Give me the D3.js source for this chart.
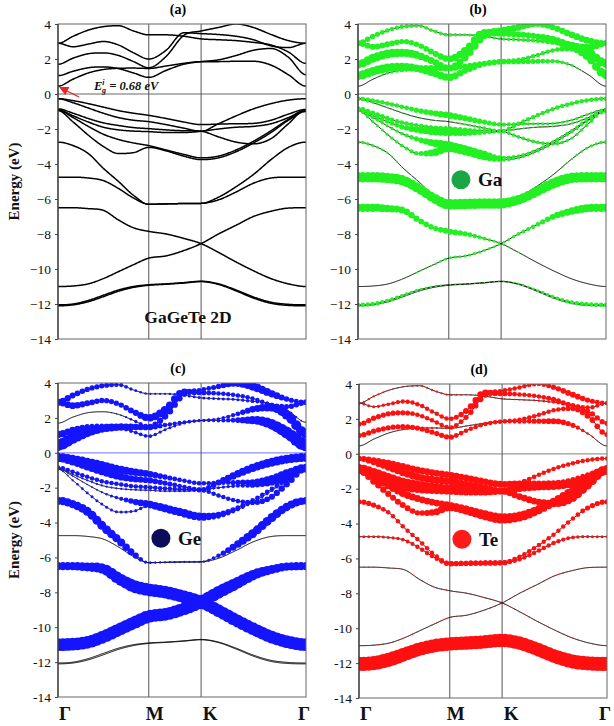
<!DOCTYPE html>
<html><head><meta charset="utf-8">
<script src="https://cdn.jsdelivr.net/npm/d3@7"></script>
<style>body{margin:0;background:#fff} svg{display:block}</style>
</head><body>
<svg id="chart" width="614" height="726"></svg>
<script>
// ---------- DATA ----------
const kLabels = ["Γ", "M", "K", "Γ"];
const kNodes = [0, 0.366, 0.577, 1];           // path position of high-symmetry points
const kGrid = [0, .061, .122, .183, .244, .305, .366, .436, .507, .577, .647, .718, .788, .859, .929, 1];
const energyTicks = [4, 2, 0, -2, -4, -6, -8, -10, -12, -14];
const elements = ["Ga", "Ge", "Te"];

// band energies (eV) at kGrid
const c1 = [0.45, 0.85, 1.2, 1.4, 1.47, 1.48, 1.46, 1.6, 1.75, 1.85, 1.85, 1.87, 1.87, 1.65, 1.1, 0.45];
const c2 = [1.05, 1.3, 1.5, 1.55, 1.45, 1.2, 0.95, 1.35, 1.7, 1.85, 1.95, 2.2, 2.5, 2.6, 2.1, 1.1];
const c3 = [1.7, 2.05, 2.3, 2.35, 2.2, 1.85, 1.5, 2.15, 3.35, 3.6, 3.8, 4.0, 3.8, 3.4, 3.05, 2.9];
const c4 = [2.9, 2.7, 2.85, 3.0, 2.8, 2.35, 2.0, 2.5, 3.5, 3.45, 3.4, 3.3, 3.1, 2.75, 2.65, 2.9];
const c5 = [2.9, 3.3, 3.65, 3.85, 3.9, 3.6, 3.38, 3.38, 3.3, 3.15, 3.1, 3.05, 2.95, 2.8, 2.4, 1.75];
const v1 = [-0.27, -0.38, -0.55, -0.75, -0.95, -1.1, -1.22, -1.4, -1.6, -1.75, -1.72, -1.7, -1.68, -1.5, -1.15, -0.88];
const v2 = [-0.27, -0.5, -0.8, -1.1, -1.35, -1.5, -1.58, -1.75, -1.95, -2.13, -1.7, -1.25, -0.85, -0.55, -0.35, -0.27];
const v3 = [-0.85, -1.1, -1.4, -1.65, -1.8, -1.92, -1.98, -2.05, -2.1, -2.13, -2.45, -2.75, -2.85, -2.55, -1.7, -0.9];
const v4 = [-0.9, -1.25, -1.6, -1.9, -2.05, -2.12, -2.15, -2.2, -2.2, -2.13, -2.0, -1.9, -1.85, -1.7, -1.35, -0.92];
const v5 = [-0.92, -1.35, -1.85, -2.3, -2.6, -2.8, -2.95, -3.2, -3.45, -3.65, -3.55, -3.2, -2.7, -2.1, -1.45, -0.95];
const v6 = [-0.95, -1.6, -2.35, -3.0, -3.4, -3.35, -3.05, -3.25, -3.55, -3.75, -3.65, -3.3, -2.8, -2.2, -1.5, -1.0];
const v7 = [-2.75, -2.95, -3.4, -4.25, -5.0, -5.8, -6.3, -6.28, -6.26, -6.25, -5.9, -5.3, -4.6, -3.75, -3.05, -2.75];
const v8 = [-4.75, -4.75, -4.8, -4.95, -5.4, -5.95, -6.3, -6.28, -6.26, -6.25, -6.05, -5.6, -5.1, -4.8, -4.75, -4.75];
const vA = [-6.5, -6.5, -6.55, -6.65, -7.2, -7.65, -7.85, -8.0, -8.25, -8.55, -9.05, -9.6, -10.1, -10.55, -10.85, -11.0];
const vB = [-11.0, -10.97, -10.85, -10.55, -10.15, -9.75, -9.38, -9.25, -8.95, -8.55, -8.0, -7.5, -7.0, -6.7, -6.52, -6.5];
const vC = [-12.05, -12.0, -11.8, -11.5, -11.2, -11.0, -10.9, -10.85, -10.78, -10.7, -10.85, -11.2, -11.6, -11.9, -12.02, -12.05];
const vD = [-12.1, -12.05, -11.87, -11.58, -11.27, -11.05, -10.93, -10.87, -10.8, -10.72, -10.88, -11.25, -11.66, -11.96, -12.08, -12.1];
const bands = [c1, c2, c3, c4, c5, v1, v2, v3, v4, v5, v6, v7, v8, vA, vB, vC, vD];

// orbital projection weights (0..1) per band, at kGrid
const z16 = [0,0,0,0,0,0,0,0,0,0,0,0,0,0,0,0];
const wGa = [
  [0, 0.05, 0.2, 0.35, 0.4, 0.4, 0.4, 0.35, 0.35, 0.35, 0.35, 0.35, 0.3, 0.2, 0.05, 0],
  [0.6, 0.6, 0.6, 0.55, 0.5, 0.5, 0.5, 0.4, 0.35, 0.35, 0.3, 0.3, 0.3, 0.4, 0.55, 0.6],
  [0.55, 0.6, 0.6, 0.55, 0.5, 0.45, 0.4, 0.5, 0.55, 0.5, 0.45, 0.4, 0.4, 0.45, 0.45, 0.4],
  [0.4, 0.4, 0.4, 0.35, 0.35, 0.4, 0.45, 0.55, 0.5, 0.4, 0.4, 0.4, 0.5, 0.55, 0.5, 0.4],
  [0.4, 0.35, 0.3, 0.3, 0.25, 0.25, 0.25, 0.2, 0.2, 0.2, 0.25, 0.3, 0.35, 0.45, 0.55, 0.6],
  [0.3, 0.3, 0.3, 0.3, 0.35, 0.4, 0.45, 0.4, 0.35, 0.3, 0.25, 0.2, 0.2, 0.2, 0.2, 0.2],
  [0.3, 0.15, 0.1, 0.1, 0.1, 0.1, 0.1, 0.15, 0.25, 0.3, 0.3, 0.3, 0.3, 0.3, 0.3, 0.3],
  [0.35, 0.35, 0.3, 0.3, 0.3, 0.3, 0.35, 0.3, 0.25, 0.25, 0.25, 0.25, 0.25, 0.2, 0.25, 0.3],
  [0.3, 0.3, 0.3, 0.35, 0.45, 0.55, 0.6, 0.45, 0.3, 0.2, 0.15, 0.1, 0.1, 0.15, 0.2, 0.3],
  [0.3, 0.25, 0.2, 0.25, 0.35, 0.5, 0.6, 0.6, 0.5, 0.3, 0.25, 0.2, 0.2, 0.2, 0.25, 0.3],
  [0.25, 0.2, 0.2, 0.25, 0.3, 0.5, 0.65, 0.65, 0.55, 0.3, 0.2, 0.2, 0.2, 0.2, 0.25, 0.25],
  [0.25, 0.2, 0.15, 0.1, 0.1, 0.1, 0.2, 0.2, 0.2, 0.2, 0.1, 0.1, 0.1, 0.15, 0.2, 0.25],
  [0.7, 0.7, 0.7, 0.7, 0.65, 0.65, 0.7, 0.7, 0.7, 0.7, 0.65, 0.65, 0.7, 0.7, 0.7, 0.7],
  [0.55, 0.55, 0.5, 0.45, 0.4, 0.35, 0.4, 0.35, 0.25, 0.15, 0.1, 0.05, 0.05, 0.05, 0.05, 0.05],
  [0.05, 0.05, 0.05, 0.1, 0.1, 0.15, 0.2, 0.2, 0.2, 0.15, 0.25, 0.3, 0.4, 0.5, 0.55, 0.55],
  [0.3, 0.3, 0.28, 0.25, 0.2, 0.15, 0.1, 0.1, 0.1, 0.1, 0.15, 0.2, 0.25, 0.28, 0.3, 0.3],
  z16
];
const wGe = [
  [0.8, 0.75, 0.65, 0.55, 0.5, 0.45, 0.4, 0.3, 0.25, 0.2, 0.25, 0.35, 0.55, 0.7, 0.8, 0.85],
  [0.5, 0.45, 0.35, 0.3, 0.25, 0.25, 0.25, 0.2, 0.2, 0.2, 0.2, 0.3, 0.45, 0.55, 0.65, 0.7],
  [0.05, 0.05, 0.05, 0.05, 0.1, 0.2, 0.35, 0.45, 0.4, 0.3, 0.35, 0.5, 0.6, 0.5, 0.35, 0.3],
  [0.45, 0.45, 0.4, 0.35, 0.35, 0.4, 0.5, 0.55, 0.45, 0.35, 0.3, 0.3, 0.3, 0.3, 0.35, 0.4],
  [0.45, 0.4, 0.35, 0.35, 0.3, 0.2, 0.15, 0.15, 0.2, 0.2, 0.2, 0.2, 0.25, 0.2, 0.15, 0.1],
  [0.6, 0.6, 0.6, 0.6, 0.55, 0.5, 0.45, 0.35, 0.3, 0.3, 0.3, 0.35, 0.4, 0.5, 0.55, 0.6],
  [0.6, 0.55, 0.55, 0.5, 0.5, 0.45, 0.4, 0.35, 0.3, 0.35, 0.4, 0.5, 0.55, 0.6, 0.6, 0.6],
  [0.3, 0.3, 0.3, 0.3, 0.3, 0.3, 0.3, 0.3, 0.3, 0.3, 0.3, 0.3, 0.35, 0.4, 0.45, 0.4],
  [0.15, 0.15, 0.15, 0.15, 0.15, 0.15, 0.15, 0.15, 0.15, 0.15, 0.2, 0.25, 0.35, 0.45, 0.5, 0.45],
  [0.1, 0.1, 0.1, 0.15, 0.25, 0.4, 0.5, 0.55, 0.55, 0.5, 0.4, 0.35, 0.3, 0.3, 0.3, 0.25],
  [0.1, 0.15, 0.2, 0.2, 0.2, 0.2, 0.25, 0.3, 0.35, 0.35, 0.3, 0.25, 0.2, 0.2, 0.2, 0.15],
  [0.55, 0.55, 0.6, 0.6, 0.55, 0.45, 0.15, 0.1, 0.1, 0.1, 0.3, 0.5, 0.6, 0.6, 0.55, 0.5],
  [0, 0, 0, 0, 0.02, 0.05, 0.15, 0.15, 0.15, 0.15, 0.05, 0, 0, 0, 0, 0],
  [0.55, 0.55, 0.6, 0.7, 0.8, 0.85, 0.85, 0.85, 0.85, 0.85, 0.85, 0.85, 0.85, 0.85, 0.85, 0.85],
  [0.85, 0.85, 0.85, 0.85, 0.85, 0.85, 0.85, 0.85, 0.85, 0.85, 0.85, 0.8, 0.7, 0.6, 0.55, 0.55],
  z16,
  z16
];
const wTe = [
  [0, 0, 0.05, 0.1, 0.15, 0.15, 0.1, 0.1, 0.15, 0.25, 0.3, 0.35, 0.4, 0.35, 0.15, 0],
  [0.35, 0.35, 0.35, 0.35, 0.35, 0.35, 0.35, 0.3, 0.3, 0.3, 0.3, 0.3, 0.3, 0.35, 0.4, 0.35],
  [0.35, 0.35, 0.35, 0.35, 0.3, 0.3, 0.3, 0.35, 0.4, 0.3, 0.3, 0.3, 0.35, 0.4, 0.35, 0.3],
  [0.2, 0.2, 0.25, 0.3, 0.3, 0.3, 0.3, 0.4, 0.45, 0.35, 0.3, 0.3, 0.35, 0.35, 0.3, 0.25],
  [0.15, 0.15, 0.1, 0.1, 0.15, 0.15, 0.15, 0.1, 0.1, 0.1, 0.1, 0.15, 0.2, 0.3, 0.35, 0.35],
  [0.35, 0.4, 0.45, 0.45, 0.45, 0.45, 0.45, 0.45, 0.45, 0.45, 0.45, 0.4, 0.4, 0.35, 0.3, 0.35],
  [0.35, 0.4, 0.45, 0.5, 0.5, 0.5, 0.5, 0.45, 0.45, 0.4, 0.35, 0.3, 0.3, 0.3, 0.3, 0.3],
  [0.6, 0.65, 0.65, 0.6, 0.6, 0.55, 0.55, 0.5, 0.45, 0.45, 0.45, 0.45, 0.5, 0.55, 0.6, 0.6],
  [0.6, 0.6, 0.6, 0.55, 0.5, 0.45, 0.45, 0.45, 0.45, 0.45, 0.45, 0.5, 0.5, 0.55, 0.6, 0.6],
  [0.5, 0.5, 0.5, 0.5, 0.45, 0.45, 0.45, 0.5, 0.5, 0.55, 0.55, 0.5, 0.5, 0.5, 0.5, 0.5],
  [0.5, 0.45, 0.4, 0.4, 0.35, 0.45, 0.55, 0.6, 0.6, 0.6, 0.55, 0.5, 0.45, 0.45, 0.5, 0.5],
  [0.35, 0.35, 0.3, 0.3, 0.3, 0.3, 0.35, 0.35, 0.35, 0.35, 0.3, 0.3, 0.3, 0.3, 0.35, 0.35],
  [0.2, 0.2, 0.2, 0.25, 0.3, 0.3, 0.35, 0.35, 0.35, 0.35, 0.3, 0.3, 0.3, 0.25, 0.2, 0.2],
  [0.08, 0.08, 0.08, 0.08, 0.08, 0.08, 0.08, 0.08, 0.08, 0.08, 0.08, 0.08, 0.08, 0.08, 0.08, 0.08],
  [0.08, 0.08, 0.08, 0.08, 0.08, 0.08, 0.08, 0.08, 0.08, 0.08, 0.08, 0.08, 0.08, 0.08, 0.08, 0.08],
  [0.95, 0.95, 0.95, 0.92, 0.9, 0.9, 0.9, 0.9, 0.9, 0.9, 0.9, 0.9, 0.92, 0.95, 0.95, 0.95],
  z16
];
const weights = {Ga: wGa, Ge: wGe, Te: wTe};
const gapLabel = "0.68 eV";

// ---------- DRAWING ----------
const svg = d3.select("#chart");
const serif = "'Liberation Serif','Times New Roman',serif";
const dotColor = {Ga: "#22f022", Ge: "#1414ff", Te: "#ff1010"};
const legendColor = {Ga: "#1aa646", Ge: "#0c0c5a", Te: "#ff1a1a"};

const panels = [
  {id: "a", x0: 58, x1: 306, y0: 24, y1: 339, elem: null, minus: "−", zero: "#9a9a9a"},
  {id: "b", x0: 358, x1: 606, y0: 24, y1: 339, elem: "Ga", minus: "−", zero: "#9a9a9a"},
  {id: "c", x0: 58, x1: 306, y0: 383, y1: 697, elem: "Ge", minus: "-", zero: "#8c8cff"},
  {id: "d", x0: 359, x1: 607, y0: 384, y1: 698, elem: "Te", minus: "-", zero: "#9a9a9a"}
];

function monotone(xs, ys) {
  const n = xs.length, d = [], m = new Array(n);
  for (let i = 0; i < n - 1; i++) d.push((ys[i + 1] - ys[i]) / (xs[i + 1] - xs[i]));
  m[0] = 0; m[n - 1] = 0;
  for (let i = 1; i < n - 1; i++) m[i] = d[i - 1] * d[i] <= 0 ? 0 : (d[i - 1] + d[i]) / 2;
  for (let i = 0; i < n - 1; i++) {
    if (d[i] === 0) { m[i] = 0; m[i + 1] = 0; continue; }
    const a = m[i] / d[i], b = m[i + 1] / d[i], s = a * a + b * b;
    if (s > 9) { const t = 3 / Math.sqrt(s); m[i] = t * a * d[i]; m[i + 1] = t * b * d[i]; }
  }
  return x => {
    let i = Math.min(n - 2, Math.max(0, d3.bisectRight(xs, x) - 1));
    const h = xs[i + 1] - xs[i], t = (x - xs[i]) / h;
    const t2 = t * t, t3 = t2 * t;
    return (2 * t3 - 3 * t2 + 1) * ys[i] + (t3 - 2 * t2 + t) * h * m[i] +
           (-2 * t3 + 3 * t2) * ys[i + 1] + (t3 - t2) * h * m[i + 1];
  };
}
const bandFns = bands.map(b => monotone(kGrid, b));
const dense = d3.range(0, 401).map(i => i / 400);
const dotK = d3.range(0, 52).map(i => i / 51);
const rScale = d3.scaleLinear().domain([0, 1]).range([0, 7.5]);

const defs = svg.append("defs");
defs.append("marker").attr("id", "arrow").attr("viewBox", "0 0 10 10").attr("refX", 9).attr("refY", 5)
  .attr("markerWidth", 7).attr("markerHeight", 7).attr("orient", "auto-start-reverse")
  .append("path").attr("d", "M0,0 L10,5 L0,10 z").attr("fill", "#ee2222");

panels.forEach(p => {
  const x = d3.scaleLinear().domain([0, 1]).range([p.x0, p.x1]);
  const y = d3.scaleLinear().domain([4, -14]).range([p.y0, p.y1]);
  const g = svg.append("g");
  defs.append("clipPath").attr("id", "clip" + p.id).append("rect")
    .attr("x", p.x0).attr("y", p.y0).attr("width", p.x1 - p.x0).attr("height", p.y1 - p.y0);

  // y axis
  const ax = d3.axisLeft(y).tickValues(energyTicks).tickSize(3).tickPadding(4)
    .tickFormat(v => v < 0 ? p.minus + Math.abs(v) : String(v));
  const axg = g.append("g").attr("transform", `translate(${p.x0},0)`).call(ax);
  axg.select(".domain").remove();
  axg.selectAll("line").attr("stroke", "#444");
  axg.selectAll("text").attr("font-family", serif).attr("font-size", 13.5).attr("fill", "#111");

  const plot = g.append("g").attr("clip-path", `url(#clip${p.id})`);
  // zero line
  plot.append("line").attr("x1", p.x0).attr("x2", p.x1).attr("y1", y(0)).attr("y2", y(0))
    .attr("stroke", p.zero).attr("stroke-width", 1.3);
  // symmetry lines
  plot.selectAll("line.sym").data(kNodes.slice(1, 3)).join("line").attr("class", "sym")
    .attr("x1", d => x(d)).attr("x2", d => x(d)).attr("y1", p.y0).attr("y2", p.y1)
    .attr("stroke", "#555").attr("stroke-width", 1);

  const line = d3.line().x(d => x(d[0])).y(d => y(d[1]));
  plot.selectAll("path.band").data(bandFns).join("path").attr("class", "band")
    .attr("d", fn => line(dense.map(k => [k, fn(k)])))
    .attr("fill", "none").attr("stroke", "#000")
    .attr("stroke-width", p.elem ? 1 : 1.5);

  if (p.elem) {
    const W = weights[p.elem];
    const dots = [];
    bandFns.forEach((fn, bi) => {
      const ws = d3.scaleLinear().domain(kGrid).range(W[bi]);
      dotK.forEach(k => {
        const r = rScale(ws(k));
        if (r >= 0.5) dots.push({k, e: fn(k), r});
      });
    });
    plot.selectAll("circle.dot").data(dots).join("circle").attr("class", "dot")
      .attr("cx", d => x(d.k)).attr("cy", d => y(d.e)).attr("r", d => d.r)
      .attr("fill", dotColor[p.elem]);
  }

  // frame
  g.append("rect").attr("x", p.x0).attr("y", p.y0).attr("width", p.x1 - p.x0).attr("height", p.y1 - p.y0)
    .attr("fill", "none").attr("stroke", "#666").attr("stroke-width", 1);
  g.append("line").attr("x1", p.x0).attr("x2", p.x0).attr("y1", p.y0).attr("y2", p.y1)
    .attr("stroke", "#333").attr("stroke-width", 1.2);

  // panel title
  svg.append("text").attr("x", (p.x0 + p.x1) / 2 - 4).attr("y", p.y0 - 10)
    .attr("text-anchor", "middle").attr("font-family", serif).attr("font-weight", "bold")
    .attr("font-size", 14).text(`(${p.id})`);

  // legend for element
  if (p.elem) {
    const lx = x(0.415), ly = y(-4.9);
    svg.append("circle").attr("cx", lx).attr("cy", ly).attr("r", 9.5).attr("fill", legendColor[p.elem]);
    svg.append("text").attr("x", lx + 17).attr("y", ly + 6.5).attr("font-family", serif)
      .attr("font-weight", "bold").attr("font-size", 19).attr("fill", "#111").text(p.elem);
  }

  // k labels for bottom row
  if (p.id === "c" || p.id === "d") {
    const offs = [7, 6, 9, -2];
    svg.selectAll(null).data(kNodes).join("text")
      .attr("x", (d, i) => x(d) + offs[i]).attr("y", 720)
      .attr("text-anchor", "middle").attr("font-family", serif).attr("font-weight", "bold")
      .attr("font-size", 19).attr("fill", "#111").text((d, i) => kLabels[i]);
  }
  // y label
  if (p.id === "a" || p.id === "c") {
    const cy = (p.y0 + p.y1) / 2;
    svg.append("text").attr("transform", `translate(19,${cy}) rotate(-90)`)
      .attr("text-anchor", "middle").attr("font-family", serif).attr("font-weight", "bold")
      .attr("font-size", 15).attr("fill", "#111").text("Energy (eV)");
  }
  if (p.id === "a") {
    svg.append("text").attr("x", 188).attr("y", 323).attr("text-anchor", "middle")
      .attr("font-family", serif).attr("font-weight", "bold").attr("font-size", 17.5)
      .attr("fill", "#111").text("GaGeTe 2D");
    const t = svg.append("text").attr("x", 94).attr("y", 90).attr("font-family", serif)
      .attr("font-weight", "bold").attr("font-style", "italic").attr("font-size", 12.5).attr("fill", "#111");
    t.append("tspan").text("E");
    t.append("tspan").attr("dx", 0).attr("dy", -5).attr("font-size", 8).text("i");
    t.append("tspan").attr("dx", -2.5).attr("dy", 8).attr("font-size", 8).text("g");
    t.append("tspan").attr("dy", -3).text(" = " + gapLabel);
    svg.append("line").attr("x1", 79).attr("y1", 97).attr("x2", 60).attr("y2", 87.5)
      .attr("stroke", "#ee2222").attr("stroke-width", 1.3).attr("marker-end", "url(#arrow)");
  }
});
</script>
</body></html>
